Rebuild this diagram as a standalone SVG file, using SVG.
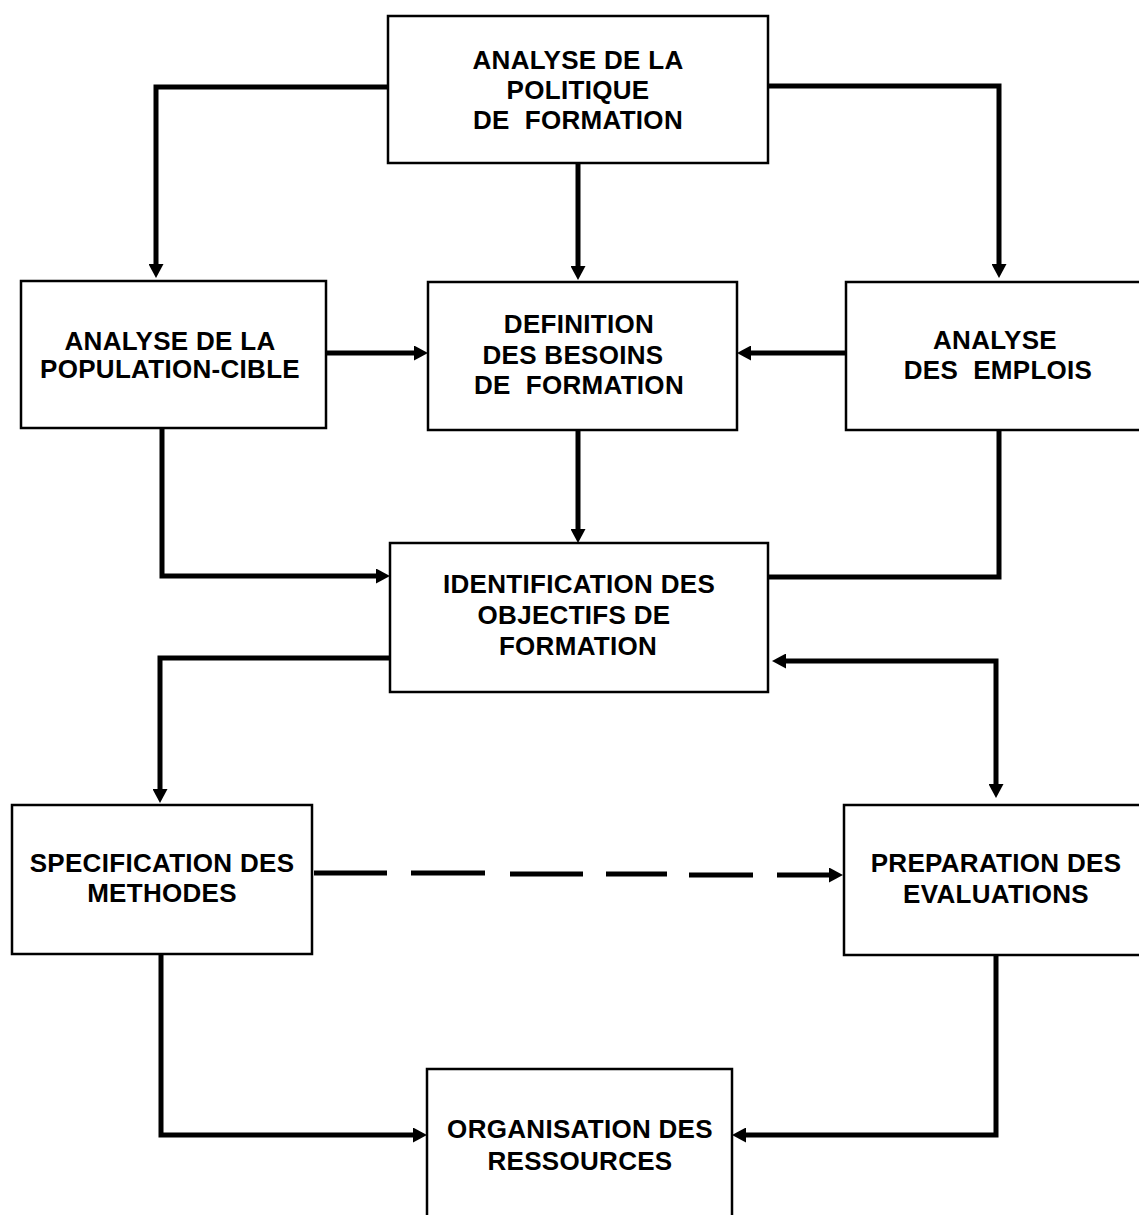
<svg xmlns="http://www.w3.org/2000/svg" width="1139" height="1215" viewBox="0 0 1139 1215">
  <style>
    .box { fill: #ffffff; stroke: #000000; stroke-width: 2.5; }
    .lbl { font-family: "Liberation Sans", Arial, Helvetica, sans-serif; font-weight: bold; font-size: 26px; letter-spacing: 0.3px; fill: #000000; text-anchor: middle; }
    .conn { fill: none; stroke: #000000; stroke-width: 5; stroke-linejoin: miter; }
  </style>
  <defs>
    <marker id="arrow" viewBox="0 0 15 15" refX="1" refY="7.5" markerWidth="15" markerHeight="15" markerUnits="userSpaceOnUse" orient="auto-start-reverse">
      <path d="M0,0 L14,7.5 L0,15 Z" fill="#000000"/>
    </marker>
  </defs>
  <rect x="0" y="0" width="1139" height="1215" fill="#ffffff"/>

  <g id="connectors">
    <path class="conn" d="M388,87 H156 V265" marker-end="url(#arrow)"/>
    <path class="conn" d="M578,163 V267" marker-end="url(#arrow)"/>
    <path class="conn" d="M768,86 H999 V265" marker-end="url(#arrow)"/>
    <path class="conn" d="M326,353 H415" marker-end="url(#arrow)"/>
    <path class="conn" d="M846,353 H750" marker-end="url(#arrow)"/>
    <path class="conn" d="M578,430 V530" marker-end="url(#arrow)"/>
    <path class="conn" d="M162,428 V576 H377" marker-end="url(#arrow)"/>
    <path class="conn" d="M999,430 V577 H768"/>
    <path class="conn" d="M390,658 H160 V790" marker-end="url(#arrow)"/>
    <path class="conn" d="M785,661 H996 V785" marker-start="url(#arrow)" marker-end="url(#arrow)"/>
    <path class="conn" d="M314,873 H387 M411,873 H485 M510,874 H583 M606,874 H667 M689,875 H753 M777,875 H830" marker-end="url(#arrow)"/>
    <path class="conn" d="M161,955 V1135 H414" marker-end="url(#arrow)"/>
    <path class="conn" d="M996,955 V1135 H745" marker-end="url(#arrow)"/>
  </g>

  <g id="node-politique">
    <rect class="box" x="388" y="16" width="380" height="147"/>
    <text class="lbl" x="578" y="69">ANALYSE DE LA</text>
    <text class="lbl" x="578" y="99">POLITIQUE</text>
    <text class="lbl" x="578" y="129" xml:space="preserve">DE  FORMATION</text>
  </g>

  <g id="node-population">
    <rect class="box" x="21" y="281" width="305" height="147"/>
    <text class="lbl" x="170" y="350">ANALYSE DE LA</text>
    <text class="lbl" x="170" y="378">POPULATION-CIBLE</text>
  </g>

  <g id="node-besoins">
    <rect class="box" x="428" y="282" width="309" height="148"/>
    <text class="lbl" x="579" y="333">DEFINITION</text>
    <text class="lbl" x="573" y="364">DES BESOINS</text>
    <text class="lbl" x="579" y="394" xml:space="preserve">DE  FORMATION</text>
  </g>

  <g id="node-emplois">
    <rect class="box" x="846" y="282" width="300" height="148"/>
    <text class="lbl" x="995" y="349">ANALYSE</text>
    <text class="lbl" x="998" y="379" xml:space="preserve">DES  EMPLOIS</text>
  </g>

  <g id="node-objectifs">
    <rect class="box" x="390" y="543" width="378" height="149"/>
    <text class="lbl" x="579" y="593">IDENTIFICATION DES</text>
    <text class="lbl" x="574" y="624">OBJECTIFS DE</text>
    <text class="lbl" x="578" y="655">FORMATION</text>
  </g>

  <g id="node-methodes">
    <rect class="box" x="12" y="805" width="300" height="149"/>
    <text class="lbl" x="162" y="872">SPECIFICATION DES</text>
    <text class="lbl" x="162" y="902">METHODES</text>
  </g>

  <g id="node-evaluations">
    <rect class="box" x="844" y="805" width="300" height="150"/>
    <text class="lbl" x="996" y="872">PREPARATION DES</text>
    <text class="lbl" x="996" y="903">EVALUATIONS</text>
  </g>

  <g id="node-ressources">
    <rect class="box" x="427" y="1069" width="305" height="160"/>
    <text class="lbl" x="580" y="1138">ORGANISATION DES</text>
    <text class="lbl" x="580" y="1170">RESSOURCES</text>
  </g>
</svg>
